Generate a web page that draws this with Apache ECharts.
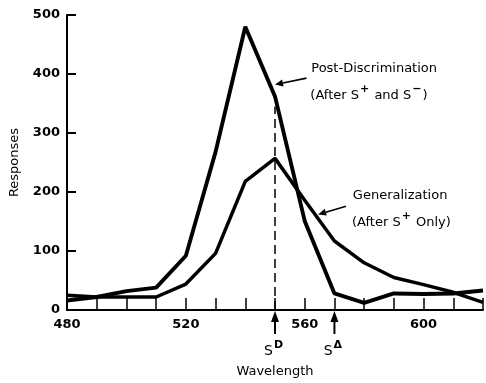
<!DOCTYPE html>
<html>
<head>
<meta charset="utf-8">
<script src="https://cdn.jsdelivr.net/npm/echarts@6/dist/echarts.min.js"></script>
<style>
  html, body { margin: 0; padding: 0; background: #fff; }
  #chart { width: 486px; height: 383px; }
</style>
</head>
<body>
<div id="chart"></div>
<script>
// wavelength (nm) at which responses were counted
const wavelengths = [480, 490, 500, 510, 520, 530, 540, 550, 560, 570, 580, 590, 600, 610, 620];
// after S+ and S- training
const postDiscrimination = [16, 22, 32, 38, 92, 268, 480, 362, 151, 28, 12, 28, 27, 28, 33];
// after S+ only
const generalization = [25, 22, 22, 22, 44, 96, 218, 257, 186, 117, 80, 55, 43, 30, 13];
const xLabelValues = [480, 520, 560, 600];
const stimulusD = 550;
const stimulusDelta = 570;

const FONT = "DejaVu Sans";
const chart = echarts.init(document.getElementById("chart"));

const toPairs = (vals) => wavelengths.map((w, i) => [w, vals[i]]);

chart.setOption({
  animation: false,
  grid: { left: 67, right: 0, top: 15, bottom: 70 },
  xAxis: {
    type: "value",
    min: 480,
    max: 620,
    interval: 10,
    name: "Wavelength",
    nameLocation: "middle",
    nameGap: 55,
    nameTextStyle: { fontFamily: FONT, fontSize: 13, color: "#000" },
    axisLine: { lineStyle: { color: "#000", width: 2 } },
    axisTick: { inside: true, length: 12, lineStyle: { color: "#000", width: 1.5 } },
    axisLabel: {
      margin: 8,
      fontFamily: FONT,
      fontSize: 13,
      fontWeight: "bold",
      color: "#000",
      formatter: (v) => (xLabelValues.includes(v) ? String(v) : ""),
    },
    splitLine: { show: false },
  },
  yAxis: {
    type: "value",
    min: 0,
    max: 500,
    interval: 100,
    name: "Responses",
    nameLocation: "middle",
    nameGap: 46,
    nameRotate: 90,
    nameTextStyle: { fontFamily: FONT, fontSize: 13, color: "#000" },
    axisLine: { show: true, lineStyle: { color: "#000", width: 2 } },
    axisTick: { show: true, inside: true, length: 9, lineStyle: { color: "#000", width: 2 } },
    axisLabel: { margin: 7, fontFamily: FONT, fontSize: 13, fontWeight: "bold", color: "#000" },
    splitLine: { show: false },
  },
  series: [
    {
      name: "Post-Discrimination",
      type: "line",
      data: toPairs(postDiscrimination),
      symbol: "none",
      clip: false,
      lineStyle: { color: "#000", width: 3.9 },
      markLine: {
        silent: true,
        symbol: "none",
        label: { show: false },
        lineStyle: { color: "#000", width: 1.5, type: [9, 5] },
        data: [[{ coord: [stimulusD, 0] }, { coord: [stimulusD, 345] }]],
      },
    },
    {
      name: "Generalization",
      type: "line",
      data: toPairs(generalization),
      symbol: "none",
      clip: false,
      lineStyle: { color: "#000", width: 3.5 },
    },
  ],
});

// annotations, placed in data units and converted through the axes
const px = (p) => chart.convertToPixel({ seriesIndex: 0 }, p);

function arrow(from, to, head) {
  const a = px(from), b = px(to);
  const ang = Math.atan2(b[1] - a[1], b[0] - a[0]);
  const len = head || 8, wid = 3.5;
  const bx = b[0] - Math.cos(ang) * len, by = b[1] - Math.sin(ang) * len;
  const nx = -Math.sin(ang) * wid, ny = Math.cos(ang) * wid;
  return [
    { type: "line", shape: { x1: a[0], y1: a[1], x2: bx, y2: by }, style: { stroke: "#000", lineWidth: 1.6 } },
    { type: "polygon", shape: { points: [[b[0], b[1]], [bx + nx, by + ny], [bx - nx, by - ny]] }, style: { fill: "#000" } },
  ];
}

const rich = {
  a: { fontFamily: FONT, fontSize: 13, color: "#000", lineHeight: 18, verticalAlign: "bottom" },
  big: { fontFamily: FONT, fontSize: 14, color: "#000", lineHeight: 18, verticalAlign: "bottom" },
  sup: { fontFamily: FONT, fontSize: 11, fontWeight: "bold", color: "#000", lineHeight: 18, verticalAlign: "top", padding: [0, 1, 6, 1] },
};

function label(pos, text) {
  const p = px(pos);
  return { type: "text", x: p[0], y: p[1], style: { text: text, rich: rich, verticalAlign: "middle", align: "left" } };
}

function stimulusMark(x, sup) {
  const top = px([x, 0]);
  const base = [top[0], top[1] + 24];
  return [
    { type: "line", shape: { x1: base[0], y1: base[1], x2: top[0], y2: top[1] + 10 }, style: { stroke: "#000", lineWidth: 2 } },
    { type: "polygon", shape: { points: [[top[0], top[1] + 1], [top[0] - 4, top[1] + 12], [top[0] + 4, top[1] + 12]] }, style: { fill: "#000" } },
    { type: "text", x: top[0] - 1, y: top[1] + 39, style: { text: "{big|S}{sup|" + sup + "}", rich: rich, align: "center", verticalAlign: "middle" } },
  ];
}

chart.setOption({
  graphic: [
    label([562.2, 413], "{a|Post-Discrimination}"),
    label([561.9, 368], "{a|(After S}{sup|+}{a| and S}{sup|−}{a|)}"),
    label([576.2, 198], "{a|Generalization}"),
    label([575.9, 153], "{a|(After S}{sup|+}{a| Only)}"),
    ...arrow([560.6, 393], [550.0, 382]),
    ...arrow([573.9, 176], [564.5, 162]),
    ...stimulusMark(stimulusD, "D"),
    ...stimulusMark(stimulusDelta, "Δ"),
  ],
});
</script>
</body>
</html>
